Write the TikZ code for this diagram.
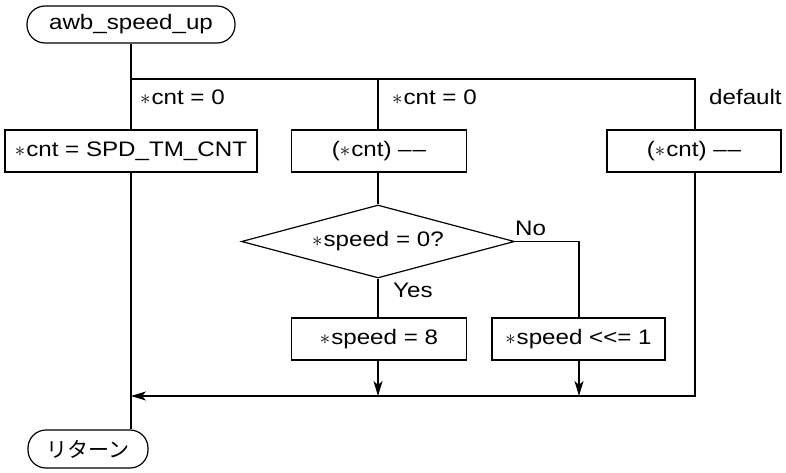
\documentclass[tikz,border=0pt]{standalone}
\usepackage{fontspec}
\setmainfont{Liberation Sans}[FakeStretch=1.15]
\newfontfamily\cjk{Noto Sans CJK JP}
\usetikzlibrary{arrows.meta,shapes.geometric}
\newcommand{\st}{$\ast$\kern1pt}
\newcommand{\dd}{–\kern1pt–}
\tikzset{
  flow/.style={line width=1.2pt},
  proc/.style={draw, line width=1.2pt, minimum height=42pt, inner sep=0pt, font=\fontsize{21pt}{24pt}\selectfont},
  term/.style={draw, line width=1.2pt, rounded corners=18pt, inner sep=0pt, font=\fontsize{21pt}{24pt}\selectfont},
  dec/.style={draw, line width=1.2pt, diamond, aspect=3.74, minimum width=273pt, minimum height=73pt, inner sep=0pt, font=\fontsize{21pt}{24pt}\selectfont},
  lbl/.style={anchor=west, inner sep=0pt, font=\fontsize{21pt}{24pt}\selectfont},
  arr/.style={-{Stealth[length=15pt,width=9pt,inset=4pt]}}
}
\begin{document}
\begin{tikzpicture}[x=1pt,y=-1pt]
\useasboundingbox (0,0) rectangle (786,472);
\node[term, minimum width=208pt, minimum height=37pt] (start) at (131,24.5) {awb\_speed\_up};
\node[proc, minimum width=252pt] (b1) at (131,151) {\st cnt = SPD\_TM\_CNT};
\node[proc, minimum width=175pt] (b2) at (379,151) {(\st cnt) \dd};
\node[proc, minimum width=174pt] (b3) at (694,151) {(\st cnt) \dd};
\node[dec] (d) at (378,241.5) {\st speed = 0?};
\node[proc, minimum width=175pt] (b4) at (379,339) {\st speed = 8};
\node[proc, minimum width=173pt] (b5) at (578.5,339) {\st speed <{}<= 1};
\node[term, minimum width=120pt, minimum height=38pt, font=\cjk\fontsize{21pt}{24pt}\selectfont] (end) at (88,449) {リターン};

\coordinate (j1) at (131,79);
\coordinate (j2) at (378,79);
\coordinate (j3) at (695,79);
\coordinate (n1) at (579,241.5);
\coordinate (m1) at (131,396);
\coordinate (m2) at (378,396);
\coordinate (m3) at (579,396);
\coordinate (m4) at (695,396);

\node[lbl] (l1) at (140,97) {\st cnt = 0};
\node[lbl] (l2) at (392,97) {\st cnt = 0};
\node[lbl] (l3) at (709,97) {default};
\node[lbl] (lno) at (515,228) {No};
\node[lbl] (lyes) at (393,290) {Yes};

\draw[flow] (start.south) -- (start.south |- b1.north);
\draw[flow] (j1) -- (j3) -- (j3 |- b3.north);
\draw[flow] (j2) -- (j2 |- b2.north);
\draw[flow] (j2 |- b2.south) -- (d.north);
\draw[flow] (d.east) -- (n1) -- (n1 |- b5.north);
\draw[flow] (d.south) -- (d.south |- b4.north);
\draw[flow,arr] (m2 |- b4.south) -- (m2);
\draw[flow,arr] (m3 |- b5.south) -- (m3);
\draw[flow,arr] (j3 |- b3.south) -- (m4) -- (m1);
\draw[flow] (j1 |- b1.south) -- (j1 |- end.north);
\end{tikzpicture}
\end{document}
